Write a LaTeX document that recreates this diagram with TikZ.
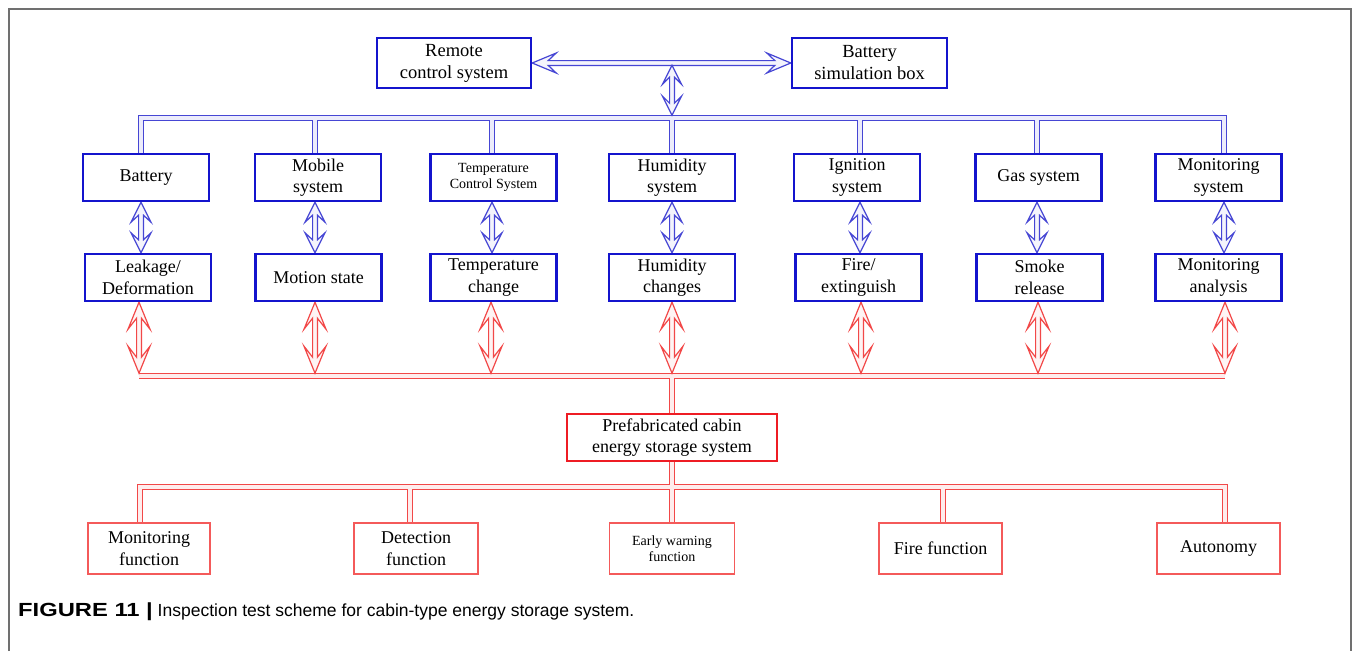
\documentclass[tikz,border=0pt]{standalone}
\usepackage{fontspec}
\setmainfont{Liberation Serif}
\setsansfont{Liberation Sans}
\usetikzlibrary{calc}

\definecolor{boxblue}{RGB}{20,20,205}
\definecolor{linkblue}{RGB}{70,70,212}
\definecolor{boxred}{RGB}{238,28,36}
\definecolor{softred}{RGB}{244,90,90}
\definecolor{linkred}{RGB}{242,72,72}
\definecolor{framegrey}{RGB}{112,112,112}

\pgfdeclarelayer{back}
\pgfsetlayers{back,main}

% vertical double-line arrow with open heads at both ends:
% #1 style, #2 upper tip, #3 lower tip, #4 head half-width, #5 head length, #6 notch
\newcommand{\dvarrow}[6]{%
  \draw[#1] let \p1=(#2), \p2=(#3), \n1={scalar((\y1)-(\y2))} in
    (\x1,\y1) -- ++(#4,#5) -- ++({2.4-#4},{-#6})
    -- ++(0,{\n1-2*#5+2*#6}) -- ++({#4-2.4},{-#6})
    -- ++({-#4},{#5}) -- ++({-#4},{-#5}) -- ++({#4-2.4},{#6})
    -- ++(0,{-(\n1-2*#5+2*#6)}) -- ++({2.4-#4},{#6}) -- cycle;}
% horizontal version: #2 left tip, #3 right tip
\newcommand{\dharrow}[6]{%
  \draw[#1] let \p1=(#2), \p2=(#3), \n1={scalar((\x2)-(\x1))} in
    (\x1,\y1) -- ++(#5,#4) -- ++({-#6},{2.4-#4})
    -- ++({\n1-2*#5+2*#6},0) -- ++({-#6},{#4-2.4})
    -- ++({#5},{-#4}) -- ++({-#5},{-#4}) -- ++({#6},{#4-2.4})
    -- ++({-(\n1-2*#5+2*#6)},0) -- ++({#6},{2.4-#4}) -- cycle;}

\begin{document}
\begin{tikzpicture}[x=1pt,y=-1pt,
  txt/.style={font=\fontsize{18}{21.5}\selectfont},
  smalltxt/.style={font=\fontsize{14}{16}\selectfont},
  bbox/.style={draw=boxblue, line width=2.4pt, fill=white, align=center,
    inner sep=0pt, minimum width=126, minimum height=47, txt},
  rbox/.style={draw=boxred, line width=2.6pt, fill=white, align=center,
    inner sep=0pt, txt},
  fbox/.style={draw=softred, line width=1.8pt, fill=white, align=center,
    inner sep=0pt, minimum height=51, txt},
  bdbl/.style={draw=linkblue, line width=1.2pt, double=linkblue!10,
    double distance=3.2pt, line join=miter},
  rdbl/.style={draw=linkred, line width=1.2pt, double=linkred!10,
    double distance=3.2pt, line join=miter},
  barrow/.style={draw=linkblue, line width=1.2pt, fill=linkblue!6, line join=miter},
  rarrow/.style={draw=linkred, line width=1.2pt, fill=linkred!6, line join=miter}]

\useasboundingbox (0,0) rectangle (1356,651);
\draw[framegrey, line width=1.6pt] (9,651) -- (9,9) -- (1351,9) -- (1351,651);

% top level
\node[bbox, minimum width=154, minimum height=50, font=\fontsize{18.5}{22}\selectfont] (remote) at (454,63) {Remote\\control system};
\node[bbox, minimum width=155, minimum height=50, font=\fontsize{18.5}{22}\selectfont] (bsim) at (869.5,63) {Battery\\simulation box};

% subsystems
\node[bbox] (bat) at (146,177.5) {Battery};
\node[bbox] (mob) at (318,177.5) {Mobile\\system};
\node[bbox, smalltxt] (tcs) at (493.5,177.5) {Temperature\\Control System};
\node[bbox] (hum) at (672,177.5) {Humidity\\system};
\node[bbox] (ign) at (857,177.5) {Ignition\\system};
\node[bbox] (gas) at (1038.5,177.5) {Gas system};
\node[bbox] (mon) at (1218.5,177.5) {Monitoring\\system};

% observed effects
\node[bbox] (leak) at (148,277.5) {Leakage/\\Deformation};
\node[bbox] (mot) at (318.5,277.5) {Motion state};
\node[bbox] (tch) at (493.5,277.5) {Temperature\\change};
\node[bbox] (hch) at (672,277.5) {Humidity\\changes};
\node[bbox] (fire) at (858.5,277.5) {Fire/\\extinguish};
\node[bbox] (smk) at (1039.5,277.5) {Smoke\\release};
\node[bbox] (man) at (1218.5,277.5) {Monitoring\\analysis};

% system under test
\node[rbox, minimum width=210, minimum height=47] (prefab) at (672,437.5)
  {Prefabricated cabin\\energy storage system};

% functions
\node[fbox, minimum width=122] (monf) at (149,548.5) {Monitoring\\function};
\node[fbox, minimum width=124] (det) at (416,548.5) {Detection\\function};
\node[fbox, minimum width=125, smalltxt] (early) at (672,548.5) {Early warning\\function};
\node[fbox, minimum width=123] (firef) at (940.5,548.5) {Fire function};
\node[fbox, minimum width=123] (auto) at (1218.5,548.5) {Autonomy};

% caption
\node[anchor=west, inner sep=0pt, font=\sffamily\fontsize{17.5}{20}\selectfont] (cap) at (18,612)
  {\scalebox{1.25}[1]{\fontsize{19}{20}\selectfont\bfseries FIGURE 11 |} Inspection test scheme for cabin-type energy storage system.};

% bus points
\coordinate (hub) at (672,65.2);
\coordinate (bb1) at (141,118);
\coordinate (bb2) at (315,118);
\coordinate (bb3) at (492,118);
\coordinate (bb4) at (672,118);
\coordinate (bb5) at (860,118);
\coordinate (bb6) at (1037,118);
\coordinate (bb7) at (1224,118);
\coordinate (bustop) at (672,115.2);

\coordinate (rb1) at (139,376);
\coordinate (rb2) at (315,376);
\coordinate (rb3) at (491,376);
\coordinate (rb4) at (672,376);
\coordinate (rb5) at (861,376);
\coordinate (rb6) at (1038,376);
\coordinate (rb7) at (1225,376);

\coordinate (lb1) at (140,487);
\coordinate (lb2) at (410,487);
\coordinate (lb3) at (672,487);
\coordinate (lb4) at (943,487);
\coordinate (lb5) at (1225,487);

\begin{pgfonlayer}{back}
  % blue distribution bus
  \draw[bdbl] (bat.north -| bb1) -- (bb1) -- (bb7) -- (mon.north -| bb7)
    (bb2) -- (mob.north -| bb2) (bb3) -- (tcs.north -| bb3)
    (bb4) -- (hum.north -| bb4) (bb5) -- (ign.north -| bb5)
    (bb6) -- (gas.north -| bb6);
  \dharrow{barrow}{remote.east}{bsim.west}{10}{24}{8}
  \dvarrow{barrow}{hub}{bustop}{9.5}{19}{7}

  % subsystem to effect
  \dvarrow{barrow}{bat.south -| bb1}{leak.north -| bb1}{10}{20}{7}
  \dvarrow{barrow}{mob.south -| bb2}{mot.north -| bb2}{10}{20}{7}
  \dvarrow{barrow}{tcs.south -| bb3}{tch.north -| bb3}{10}{20}{7}
  \dvarrow{barrow}{hum.south -| bb4}{hch.north -| bb4}{10}{20}{7}
  \dvarrow{barrow}{ign.south -| bb5}{fire.north -| bb5}{10}{20}{7}
  \dvarrow{barrow}{gas.south -| bb6}{smk.north -| bb6}{10}{20}{7}
  \dvarrow{barrow}{mon.south -| bb7}{man.north -| bb7}{10}{20}{7}

  % red collection bus
  \draw[rdbl] (rb1) -- (rb7) (rb4) -- (prefab.north);
  \dvarrow{rarrow}{leak.south -| rb1}{$(rb1)+(0,-2.8)$}{11}{27}{11}
  \dvarrow{rarrow}{mot.south -| rb2}{$(rb2)+(0,-2.8)$}{11}{27}{11}
  \dvarrow{rarrow}{tch.south -| rb3}{$(rb3)+(0,-2.8)$}{11}{27}{11}
  \dvarrow{rarrow}{hch.south -| rb4}{$(rb4)+(0,-2.8)$}{11}{27}{11}
  \dvarrow{rarrow}{fire.south -| rb5}{$(rb5)+(0,-2.8)$}{11}{27}{11}
  \dvarrow{rarrow}{smk.south -| rb6}{$(rb6)+(0,-2.8)$}{11}{27}{11}
  \dvarrow{rarrow}{man.south -| rb7}{$(rb7)+(0,-2.8)$}{11}{27}{11}

  % function bus
  \draw[rdbl] (monf.north -| lb1) -- (lb1) -- (lb5) -- (auto.north -| lb5)
    (lb2) -- (det.north -| lb2) (prefab.south) -- (early.north)
    (lb4) -- (firef.north -| lb4);
\end{pgfonlayer}
\end{tikzpicture}
\end{document}
